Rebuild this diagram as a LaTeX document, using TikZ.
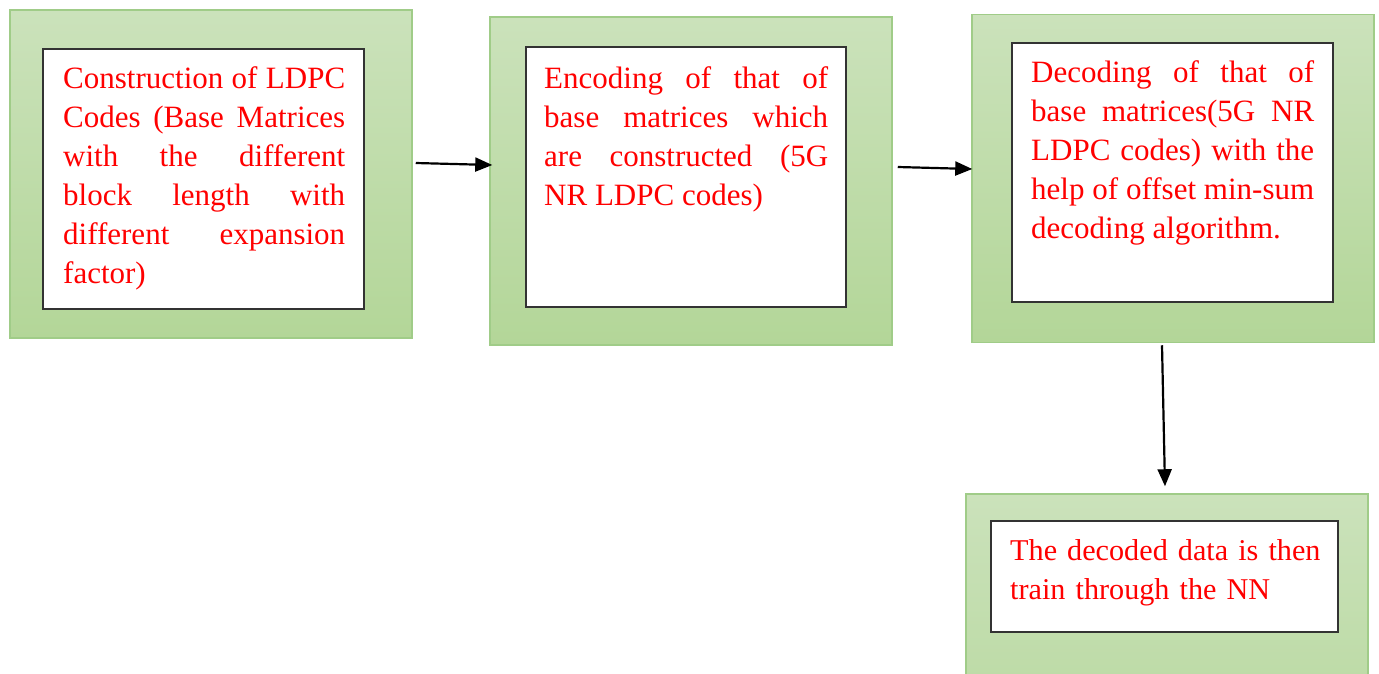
\documentclass[tikz,border=0pt]{standalone}
\usepackage{fontspec}
\setmainfont{Liberation Serif}
\usetikzlibrary{arrows.meta}
\definecolor{boxtop}{RGB}{203,226,187}
\definecolor{boxbottom}{RGB}{179,214,152}
\definecolor{boxedge}{RGB}{160,204,136}
\definecolor{txtred}{RGB}{255,0,0}
\hyphenpenalty=10000

\begin{document}
\begin{tikzpicture}[x=1pt,y=-1pt,
  outerbox/.style={draw=boxedge,line width=1.5pt,top color=boxtop,bottom color=boxbottom,
    minimum width=402pt,minimum height=328pt,inner sep=0pt},
  innerbox/.style={draw=black!80,line width=2pt,fill=white,inner sep=0pt},
  txt/.style={text=txtred,font=\fontsize{31}{39}\selectfont,
    inner sep=0pt,anchor=base west,align=justify},
  arr/.style={line width=2.2pt,-{Triangle[length=17pt,width=14pt]}}]
\useasboundingbox (0,0) rectangle (1379,673);
\clip (0,0) rectangle (1379,673);
% green boxes
\node[outerbox] (b1) at (211,174) {};
\node[outerbox] (b2) at (691,181) {};
\node[outerbox] (b3) at (1173,178.5) {};
\node[outerbox] (b4) at (1167,658) {};
% white boxes
\node[innerbox,minimum width=321pt,minimum height=260pt] (w1) at (203.5,179) {};
\node[innerbox,minimum width=320pt,minimum height=260pt] (w2) at (686,177) {};
\node[innerbox,minimum width=321pt,minimum height=259pt] (w3) at (1172.5,172.5) {};
\node[innerbox,minimum width=347pt,minimum height=111pt] (w4) at (1164.5,576.5) {};
% texts
\node[txt,text width=282pt] (t1) at (63,88) {Construction of LDPC\linebreak Codes (Base Matrices\linebreak
  with the different\linebreak block length with\linebreak different expansion\linebreak factor)};
\node[txt,text width=284pt] (t2) at (544,88) {Encoding of that of\linebreak base matrices which\linebreak
  are constructed (5G\linebreak NR LDPC codes)};
\node[txt,text width=283pt] (t3) at (1031,82) {Decoding of that of\linebreak base matrices(5G NR\linebreak
  LDPC codes) with the\linebreak help of offset min-sum\linebreak decoding algorithm.};
\node[txt,text width=320pt,align=left,font=\fontsize{30.2}{39}\selectfont] (t4) at (1010,560)
  {The decoded data is then\\ train through the NN};
% arrows
\draw[arr] ([xshift=3pt,yshift=11pt]b1.east) -- ([xshift=3pt,yshift=16pt]b2.west);
\draw[arr] ([xshift=5pt,yshift=14pt]b2.east) -- ([xshift=1pt,yshift=9.5pt]b3.west);
\draw[arr] ([xshift=-11pt,yshift=-2pt]b3.south) -- ([xshift=-2pt,yshift=7pt]b4.north);
\end{tikzpicture}
\end{document}
